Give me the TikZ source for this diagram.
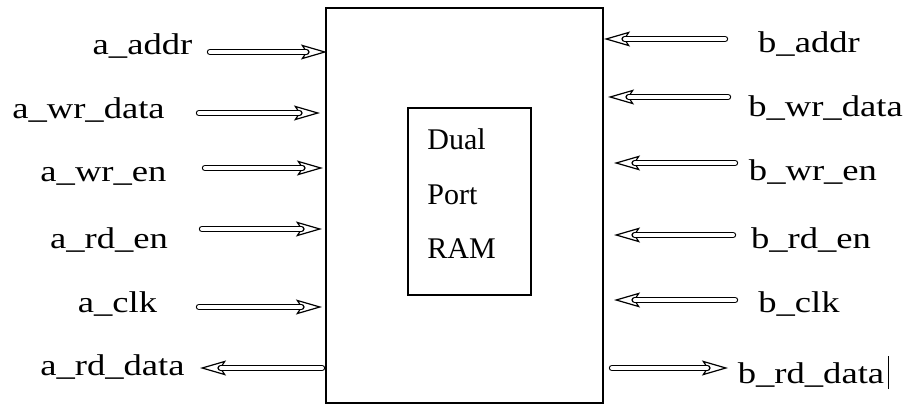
\documentclass[tikz,border=0pt]{standalone}
\usepackage{fontspec}
\setmainfont{Liberation Serif}
\newfontfamily\lblfont[FakeStretch=1.22]{Liberation Serif}
\usetikzlibrary{arrows.meta,positioning}
\tikzset{
  block/.style={draw=black, line width=1pt, inner sep=0pt},
  core/.style={block, line width=0.9pt},
  sig/.style={line width=3.2pt, line cap=round,
    -{Stealth[open, length=13pt, width=7.5pt, inset=2.5pt, line width=0.6pt]},
    postaction={draw=white, line width=2pt, shorten >=10.5pt, -}},
  lbl/.style={font=\lblfont\fontsize{15}{18}\selectfont, inner sep=0pt, anchor=base},
  ramtext/.style={font=\fontsize{15}{18}\selectfont, inner sep=0pt, anchor=base west}
}
\begin{document}
\begin{tikzpicture}[x=0.5pt,y=-0.5pt]
  \useasboundingbox (0,0) rectangle (908,406);

  % blocks
  \node[block, minimum width=138.5pt, minimum height=197.5pt, anchor=north west] (ram) at (325,7) {};
  \node[core, minimum width=61.5pt, minimum height=93.5pt, anchor=north west] (core) at (407,107) {};
  \node[ramtext] (dual) at (427,150) {Dual};
  \node[ramtext] (port) at (427,205) {Port};
  \node[ramtext] (mem)  at (427,258) {RAM};

  % port a labels
  \node[lbl] (aaddr)   at (142.5,55)  {a\_addr};
  \node[lbl] (awrdata) at (88.5,119)  {a\_wr\_data};
  \node[lbl] (awren)   at (103.5,182) {a\_wr\_en};
  \node[lbl] (arden)   at (109,248)   {a\_rd\_en};
  \node[lbl] (aclk)    at (117.5,312) {a\_clk};
  \node[lbl] (ardata)  at (112.5,375) {a\_rd\_data};

  % port b labels
  \node[lbl] (baddr)   at (809,53)    {b\_addr};
  \node[lbl] (bwrdata) at (825.5,117) {b\_wr\_data};
  \node[lbl] (bwren)   at (813,180)   {b\_wr\_en};
  \node[lbl] (brden)   at (811,248)   {b\_rd\_en};
  \node[lbl] (bclk)    at (799,312)   {b\_clk};
  \node[lbl] (brdata)  at (811,383)   {b\_rd\_data};
  \draw[line width=0.6pt] ([xshift=2pt,yshift=-3pt]brdata.base east) -- ++(0,-33);

  % arrow ends
  \coordinate (aaddr-s)   at (210,52);
  \coordinate (awrdata-s) at (199,113);
  \coordinate (awren-s)   at (205,168);
  \coordinate (arden-s)   at (202,229);
  \coordinate (aclk-s)    at (199,307);
  \coordinate (ardata-e)  at (200,368);
  \coordinate (baddr-s)   at (725,39);
  \coordinate (bwrdata-s) at (728,97);
  \coordinate (bwren-s)   at (735,163);
  \coordinate (brden-s)   at (733,235);
  \coordinate (bclk-s)    at (735,300);
  \coordinate (brdata-e)  at (728,368);

  % port a
  \draw[sig] (aaddr-s) -- ([xshift=1pt]ram.west |- aaddr-s);
  \draw[sig] (awrdata-s) -- ([xshift=-2.5pt]ram.west |- awrdata-s);
  \draw[sig] (awren-s) -- ([xshift=-1pt]ram.west |- awren-s);
  \draw[sig] (arden-s) -- ([xshift=-1.5pt]ram.west |- arden-s);
  \draw[sig] (aclk-s) -- ([xshift=-1.5pt]ram.west |- aclk-s);
  \draw[sig] ([xshift=-1.5pt]ram.west |- ardata-e) -- (ardata-e);

  % port b
  \draw[sig] (baddr-s) -- (ram.east |- baddr-s);
  \draw[sig] (bwrdata-s) -- ([xshift=2pt]ram.east |- bwrdata-s);
  \draw[sig] (bwren-s) -- ([xshift=5pt]ram.east |- bwren-s);
  \draw[sig] (brden-s) -- ([xshift=5pt]ram.east |- brden-s);
  \draw[sig] (bclk-s) -- ([xshift=5pt]ram.east |- bclk-s);
  \draw[sig] ([xshift=4pt]ram.east |- brdata-e) -- (brdata-e);
\end{tikzpicture}
\end{document}
